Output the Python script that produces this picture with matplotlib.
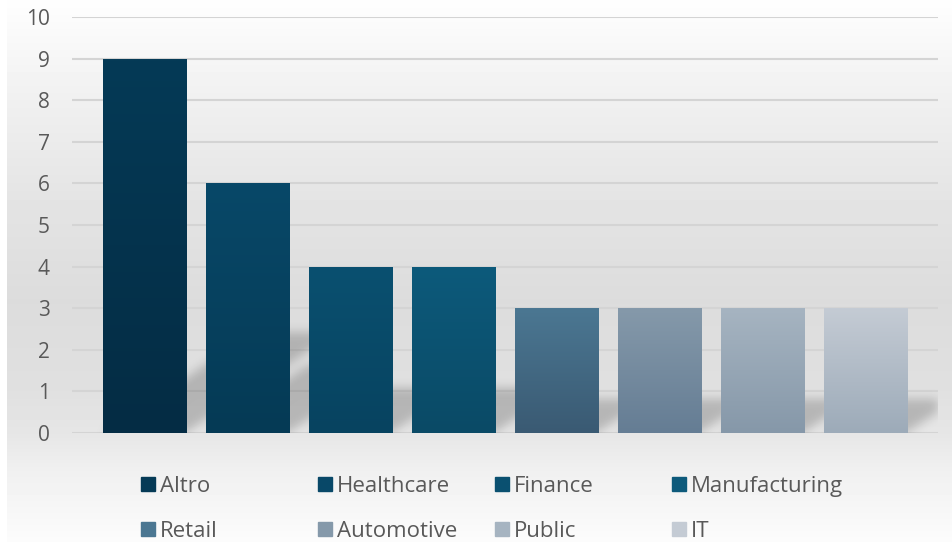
import numpy as np
import matplotlib
matplotlib.use("Agg")
import matplotlib.pyplot as plt
from matplotlib.colors import to_rgb
from matplotlib.patches import Rectangle

# data
series = ["Altro", "Healthcare", "Finance", "Manufacturing",
          "Retail", "Automotive", "Public", "IT"]
values = [9, 6, 4, 4, 3, 3, 3, 3]
top_colors = ["#053a56", "#084868", "#0a5070", "#0d5a7b",
              "#4b7792", "#8599aa", "#a6b4c1", "#c4cbd4"]
bottom_colors = ["#042c44", "#053a55", "#074360", "#0a4a66",
                 "#3a5a73", "#657d94", "#8698a9", "#9dabb9"]
yticks = [0, 1, 2, 3, 4, 5, 6, 7, 8, 9, 10]

W, H = 952, 542
text_col = "#595959"
plt.rcParams['font.family'] = ['Open Sans', 'DejaVu Sans']

fig = plt.figure(figsize=(W / 100, H / 100), dpi=100, facecolor="white")

# chart area background (vertical gradient)
bg = fig.add_axes([7 / W, 0, 1 - 7 / W, 1], zorder=0)
ys = np.arange(H)
stops_y = [0, 100, 200, 300, 390, 433, 470, 542]
stops_v = [254, 240, 228, 220, 224, 230, 240, 252]
g = np.interp(ys, stops_y, stops_v) / 255.0
bg.imshow(np.repeat(g[:, None], 4, axis=1), cmap="gray", vmin=0, vmax=1,
          aspect="auto", extent=[0, 1, 1, 0])
bg.axis("off")

# main axes
left, right, top, bottom = 72, 938, 17, 433
ax = fig.add_axes([left / W, 1 - bottom / H, (right - left) / W, (bottom - top) / H],
                  zorder=1)
ax.patch.set_alpha(0)
x = np.arange(len(series))
xlim = (-0.704, len(series) - 1 + 0.704)
ax.set_xlim(*xlim)
ax.set_ylim(0, 10)
ax.set_yticks(yticks)
ax.set_xticks([])
for s in ax.spines.values():
    s.set_visible(False)
ax.tick_params(axis="y", length=0, pad=16, labelsize=15, labelcolor=text_col)
ax.grid(axis="y", color="#d4d4d4", linewidth=1.5, zorder=0)
ax.set_axisbelow(True)

# blurred perspective shadows behind bars
nx, ny = right - left, bottom - top
px_per_x = nx / (xlim[1] - xlim[0])
px_per_y = ny / 10.0
gx = np.linspace(xlim[0], xlim[1], nx)
gy = np.linspace(10, 0, ny)
XX, YY = np.meshgrid(gx, gy)
bw = 0.806
skew = 1.5
mask = np.zeros((ny, nx))
for xi, v in zip(x, values):
    hs = 0.27 * v
    shift = skew * YY * px_per_y / px_per_x
    m = (YY <= hs) & (XX >= xi - bw / 2 + shift) & (XX <= xi + bw / 2 + shift)
    mask = np.maximum(mask, m.astype(float))
sig = 5.0
kx = np.arange(-15, 16)
k = np.exp(-kx ** 2 / (2 * sig ** 2))
k /= k.sum()
mask = np.apply_along_axis(lambda r: np.convolve(r, k, mode="same"), 1, mask)
mask = np.apply_along_axis(lambda c: np.convolve(c, k, mode="same"), 0, mask)
shadow = np.zeros((ny, nx, 4))
shadow[..., 3] = 0.2 * mask
ax.imshow(shadow, extent=[xlim[0], xlim[1], 0, 10], aspect="auto", zorder=1.5,
          interpolation="bilinear")
ax.set_xlim(*xlim)
ax.set_ylim(0, 10)

# bars with vertical gradient
bars = ax.bar(x, values, width=bw, color=bottom_colors, zorder=2)
for b, c1, c2 in zip(bars, top_colors, bottom_colors):
    t = np.linspace(0, 1, 64)[:, None]
    grad = (1 - t) * np.array(to_rgb(c1)) + t * np.array(to_rgb(c2))
    im = ax.imshow(grad[:, None, :].repeat(2, axis=1),
                   extent=[b.get_x(), b.get_x() + b.get_width(), 0, b.get_height()],
                   aspect="auto", zorder=2.5, interpolation="bilinear")
    im.set_clip_path(b)
ax.set_xlim(*xlim)
ax.set_ylim(0, 10)

# legend, 2 rows x 4 columns
for i, name in enumerate(series):
    row, col = divmod(i, 4)
    mx = 141 + col * 177
    my = 484 + row * 45
    fig.patches.append(Rectangle((mx / W, 1 - (my + 7) / H), 14 / W, 14 / H,
                                 transform=fig.transFigure, color=top_colors[i],
                                 zorder=3))
    fig.text((mx + 19) / W, 1 - my / H, name, fontsize=16, color=text_col,
             va="center_baseline", ha="left", zorder=3)

fig.savefig("out.png", dpi=100, facecolor="white")
